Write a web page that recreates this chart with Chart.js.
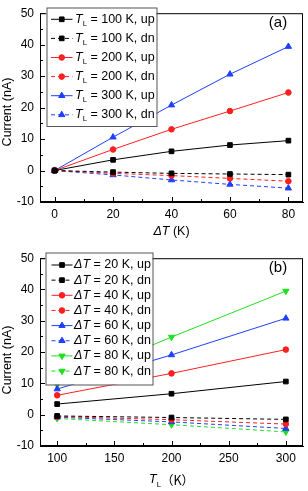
<!DOCTYPE html>
<html lang="en">
<head>
<meta charset="UTF-8">
<title>Current vs ΔT and T_L</title>
<script src="https://cdn.jsdelivr.net/npm/chart.js@4"></script>
<style>
  body { margin: 0; background: #fff; }
  canvas { display: block; }
</style>
</head>
<body>
<canvas id="chartA" width="308" height="245"></canvas>
<canvas id="chartB" width="308" height="246"></canvas>
<script>
// ---- panel (a): current vs delta T ----
const dT = [0, 20, 40, 60, 80];
const xTicksA = [0, 20, 40, 60, 80];
const tl100Up = [0, 3.4, 6.1, 8.1, 9.5];
const tl100Dn = [0, -0.5, -0.9, -1.1, -1.3];
const tl200Up = [0, 6.7, 13.1, 18.9, 24.8];
const tl200Dn = [0, -0.9, -1.6, -2.5, -3.4];
const tl300Up = [0, 10.6, 20.8, 30.6, 39.4];
const tl300Dn = [0, -1.4, -3.0, -4.4, -5.6];
const labelsA = ["= 100 K, up", "= 100 K, dn", "= 200 K, up", "= 200 K, dn", "= 300 K, up", "= 300 K, dn"];

// ---- panel (b): current vs T_L ----
const tL = [100, 200, 300];
const xTicksB = [100, 150, 200, 250, 300];
const dT20Up = [3.4, 6.7, 10.6];
const dT20Dn = [-0.4, -0.9, -1.5];
const dT40Up = [6.2, 13.2, 20.8];
const dT40Dn = [-0.6, -1.6, -3.0];
const dT60Up = [8.2, 19.1, 30.8];
const dT60Dn = [-0.8, -2.3, -4.4];
const dT80Up = [9.6, 24.8, 39.5];
const dT80Dn = [-1.2, -3.2, -5.5];
const labelsB = ["= 20 K, up", "= 20 K, dn", "= 40 K, up", "= 40 K, dn", "= 60 K, up", "= 60 K, dn", "= 80 K, up", "= 80 K, dn"];

const yTicks = [-10, 0, 10, 20, 30, 40, 50];

const FONT = "'Liberation Sans', Arial, sans-serif";
const BLACK = "#000000", RED = "#ff1f1f", BLUE = "#1f3fff", GREEN = "#1fe01f";

function series(label, xs, ys, color, style, dashed, rot) {
  return {
    label,
    data: xs.map((x, i) => ({ x, y: ys[i] })),
    borderColor: color,
    backgroundColor: color,
    borderWidth: 1,
    borderDash: dashed ? [4, 3] : [],
    pointStyle: style,
    pointRotation: rot || 0,
    pointRadius: style === "triangle" ? 3.6 : (style === "rect" ? 3.3 : 2.8),
    pointBorderWidth: 1,
    tension: 0
  };
}

// text with italic symbol and optional subscript
function drawRich(ctx, parts, x, y, size, align) {
  let w = 0;
  parts.forEach(p => {
    ctx.font = (p.italic ? "italic " : "") + (p.sub ? size * 0.62 : size) + "px " + (p.cjk ? "'Noto Sans CJK SC', " : "") + FONT;
    p.w = ctx.measureText(p.t).width;
    w += p.w;
  });
  let cx = align === "center" ? x - w / 2 : x;
  parts.forEach(p => {
    ctx.font = (p.italic ? "italic " : "") + (p.sub ? size * 0.62 : size) + "px " + (p.cjk ? "'Noto Sans CJK SC', " : "") + FONT;
    ctx.fillText(p.t, cx, y + (p.sub ? size * 0.35 : 0));
    cx += p.w;
  });
}

function drawMarker(ctx, style, rot, r, x, y) {
  ctx.beginPath();
  if (style === "rect") {
    const s = r * Math.SQRT1_2;
    ctx.rect(x - s, y - s, 2 * s, 2 * s);
  } else if (style === "circle") {
    ctx.arc(x, y, r, 0, Math.PI * 2);
  } else {
    let a = rot * Math.PI / 180;
    for (let i = 0; i < 3; i++) {
      const px = x + Math.sin(a) * r, py = y - Math.cos(a) * r;
      i ? ctx.lineTo(px, py) : ctx.moveTo(px, py);
      a += Math.PI * 2 / 3;
    }
    ctx.closePath();
  }
  ctx.fill();
  ctx.stroke();
}

const decor = {
  id: "decor",
  afterDatasetsDraw(chart, args, o) {
    const ctx = chart.ctx, a = chart.chartArea;
    const xs = chart.scales.x, ys = chart.scales.y;
    ctx.save();
    ctx.strokeStyle = "#000";
    ctx.lineWidth = 1;
    ctx.setLineDash([]);
    ctx.strokeRect(a.left + 0.5, a.top + 0.5, a.right - a.left - 1, a.bottom - a.top - 1);

    // inward ticks, major and minor
    const xt = o.xTicks;
    ctx.beginPath();
    xt.forEach((v, i) => {
      const px = Math.round(xs.getPixelForValue(v)) + 0.5;
      ctx.moveTo(px, a.bottom); ctx.lineTo(px, a.bottom - 5);
      if (i < xt.length - 1) {
        const m = Math.round(xs.getPixelForValue((v + xt[i + 1]) / 2)) + 0.5;
        ctx.moveTo(m, a.bottom); ctx.lineTo(m, a.bottom - 3);
      }
    });
    yTicks.forEach((v, i) => {
      const py = Math.round(ys.getPixelForValue(v)) + 0.5;
      ctx.moveTo(a.left, py); ctx.lineTo(a.left + 5, py);
      if (i < yTicks.length - 1) {
        const m = Math.round(ys.getPixelForValue(v + 5)) + 0.5;
        ctx.moveTo(a.left, m); ctx.lineTo(a.left + 3, m);
      }
    });
    ctx.stroke();

    // legend box drawn over the lines
    const L = o.legend;
    ctx.fillStyle = "#fff";
    ctx.fillRect(L.x, L.y, L.w, L.h);
    ctx.strokeStyle = "#555";
    ctx.strokeRect(L.x + 0.5, L.y + 0.5, L.w, L.h);
    ctx.textBaseline = "middle";
    chart.data.datasets.forEach((ds, i) => {
      const y = L.row0 + i * L.step;
      ctx.strokeStyle = ds.borderColor;
      ctx.fillStyle = ds.borderColor;
      ctx.setLineDash(ds.borderDash);
      ctx.beginPath();
      ctx.moveTo(L.x0, y); ctx.lineTo(L.x1, y);
      ctx.stroke();
      ctx.setLineDash([]);
      drawMarker(ctx, ds.pointStyle, ds.pointRotation, ds.pointRadius, (L.x0 + L.x1) / 2, y);
      ctx.fillStyle = "#000";
      drawRich(ctx, o.prefix.concat([{ t: " " + ds.label }]), L.tx, y, 12.5);
    });

    // panel tag
    ctx.fillStyle = "#000";
    ctx.font = "15px " + FONT;
    ctx.textAlign = "center";
    ctx.fillText(o.tag, a.right - 25, 23);
    ctx.textAlign = "left";

    // axis titles
    drawRich(ctx, o.xTitle, (a.left + a.right) / 2, o.xTitleY, 12.5, "center");
    ctx.translate(7.5, o.yTitleY);
    ctx.rotate(-Math.PI / 2);
    drawRich(ctx, [{ t: "Current (nA)" }], 0, 0, 12.5, "center");
    ctx.restore();
  }
};

function makeChart(id, datasets, xMin, xMax, xTicks, axisH, opts) {
  return new Chart(document.getElementById(id), {
    type: "line",
    data: { datasets },
    options: {
      responsive: false,
      animation: false,
      devicePixelRatio: 1,
      layout: { padding: { top: 7, right: 2, left: 0, bottom: 0 } },
      plugins: { legend: { display: false }, tooltip: { enabled: false }, decor: Object.assign({ xTicks }, opts) },
      scales: {
        x: {
          type: "linear", min: xMin, max: xMax,
          afterBuildTicks: s => { s.ticks = xTicks.map(v => ({ value: v })); },
          afterFit: s => { s.height = axisH; },
          grid: { display: false, drawTicks: false },
          border: { display: true, color: "#000", width: 1 },
          ticks: { color: "#000", padding: 5, font: { family: FONT, size: 12 } }
        },
        y: {
          min: -10, max: 50,
          afterBuildTicks: s => { s.ticks = yTicks.map(v => ({ value: v })); },
          afterFit: s => { s.width = 40; },
          grid: { display: false, drawTicks: false },
          border: { display: true, color: "#000", width: 1 },
          ticks: { color: "#000", padding: 6, font: { family: FONT, size: 12 } }
        }
      }
    },
    plugins: [decor]
  });
}

makeChart("chartA", [
  series(labelsA[0], dT, tl100Up, BLACK, "rect", false),
  series(labelsA[1], dT, tl100Dn, BLACK, "rect", true),
  series(labelsA[2], dT, tl200Up, RED, "circle", false),
  series(labelsA[3], dT, tl200Dn, RED, "circle", true),
  series(labelsA[4], dT, tl300Up, BLUE, "triangle", false),
  series(labelsA[5], dT, tl300Dn, BLUE, "triangle", true)
], -5, 85, xTicksA, 43, {
  tag: "(a)",
  prefix: [{ t: "T", italic: true }, { t: "L", sub: true }],
  legend: { x: 46.5, y: 7.5, w: 110, h: 118.5, row0: 19.3, step: 19.1, x0: 51, x1: 72.5, tx: 75 },
  xTitle: [{ t: "ΔT", italic: true }, { t: " (K)" }],
  xTitleY: 231.5,
  yTitleY: 112
});

makeChart("chartB", [
  series(labelsB[0], tL, dT20Up, BLACK, "rect", false),
  series(labelsB[1], tL, dT20Dn, BLACK, "rect", true),
  series(labelsB[2], tL, dT40Up, RED, "circle", false),
  series(labelsB[3], tL, dT40Dn, RED, "circle", true),
  series(labelsB[4], tL, dT60Up, BLUE, "triangle", false),
  series(labelsB[5], tL, dT60Dn, BLUE, "triangle", true),
  series(labelsB[6], tL, dT80Up, GREEN, "triangle", false, 180),
  series(labelsB[7], tL, dT80Dn, GREEN, "triangle", true, 180)
], 85, 315, xTicksB, 45, {
  tag: "(b)",
  prefix: [{ t: "ΔT", italic: true }],
  legend: { x: 45.5, y: 7.5, w: 107, h: 132, row0: 20, step: 15.15, x0: 51.5, x1: 72.5, tx: 74 },
  xTitle: [{ t: "T", italic: true }, { t: "L", sub: true }, { t: "（K）", cjk: true }],
  xTitleY: 235,
  yTitleY: 115
});
</script>
</body>
</html>
